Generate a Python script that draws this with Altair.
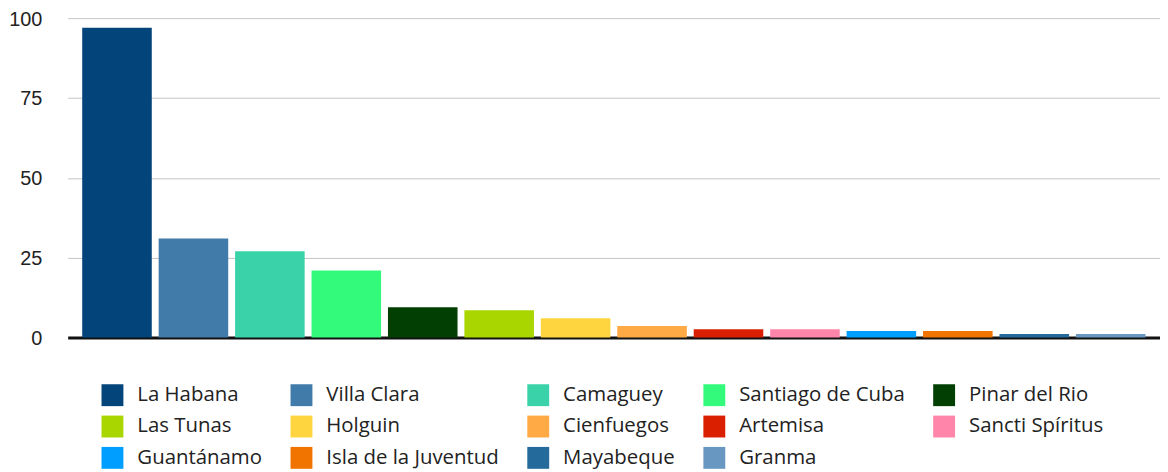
import altair as alt
import pandas as pd

provinces = ["La Habana", "Villa Clara", "Camaguey", "Santiago de Cuba", "Pinar del Rio",
             "Las Tunas", "Holguin", "Cienfuegos", "Artemisa", "Sancti Spíritus",
             "Guantánamo", "Isla de la Juventud", "Mayabeque", "Granma"]
values = [97, 31, 27, 21, 9.5, 8.5, 6, 3.6, 2.6, 2.6, 2, 2, 1.1, 1.1]
colors = ["#03457A", "#417BAA", "#3AD3A9", "#33FA7A", "#023F02",
          "#AAD600", "#FFD53F", "#FFAA44", "#D91F00", "#FF85AA",
          "#009FFF", "#F17300", "#246A9B", "#6898C2"]
y_ticks = [0, 25, 50, 75, 100]

# Vega fills legend columns top-to-bottom; reorder so the legend reads row by row (5 per row)
n_cols, n_rows = 5, 3
legend_order = [provinces[r * n_cols + c] for c in range(n_cols) for r in range(n_rows)
                if r * n_cols + c < len(provinces)]
legend_colors = [colors[provinces.index(p)] for p in legend_order]

df = pd.DataFrame({"provincia": provinces, "valor": values})

chart = alt.Chart(df).mark_bar().encode(
    x=alt.X("provincia:N", sort=provinces, title=None,
            scale=alt.Scale(paddingInner=0.09, paddingOuter=0.19),
            axis=alt.Axis(labels=False, ticks=False, domain=True, domainColor="#111111",
                          domainWidth=3, grid=False)),
    y=alt.Y("valor:Q", title=None,
            scale=alt.Scale(domain=[0, 100], nice=False),
            axis=alt.Axis(values=y_ticks, ticks=False, domain=False, gridColor="#c4c4c4",
                          gridWidth=1, labelFont="Liberation Sans", labelFontSize=20,
                          labelColor="#222222", labelPadding=26, labelOffset=1)),
    color=alt.Color("provincia:N", title=None,
                    scale=alt.Scale(domain=legend_order, range=legend_colors),
                    legend=alt.Legend(orient="none", legendX=34, legendY=368, columns=n_cols,
                                      symbolType="square", symbolSize=484, symbolStrokeWidth=0,
                                      symbolOpacity=1,
                                      labelFont="Open Sans", labelFontSize=20.5,
                                      labelColor="#222222",
                                      labelOffset=14, columnPadding=28, rowPadding=9.5,
                                      padding=0, labelLimit=300)),
).properties(
    width=1098, height=321,
    autosize=alt.AutoSizeParams(type="none"),
    padding={"left": 60, "top": 9, "right": 0, "bottom": 134},
).configure_view(stroke=None)

chart.save("out.html", embed_options={"renderer": "svg", "actions": False})
